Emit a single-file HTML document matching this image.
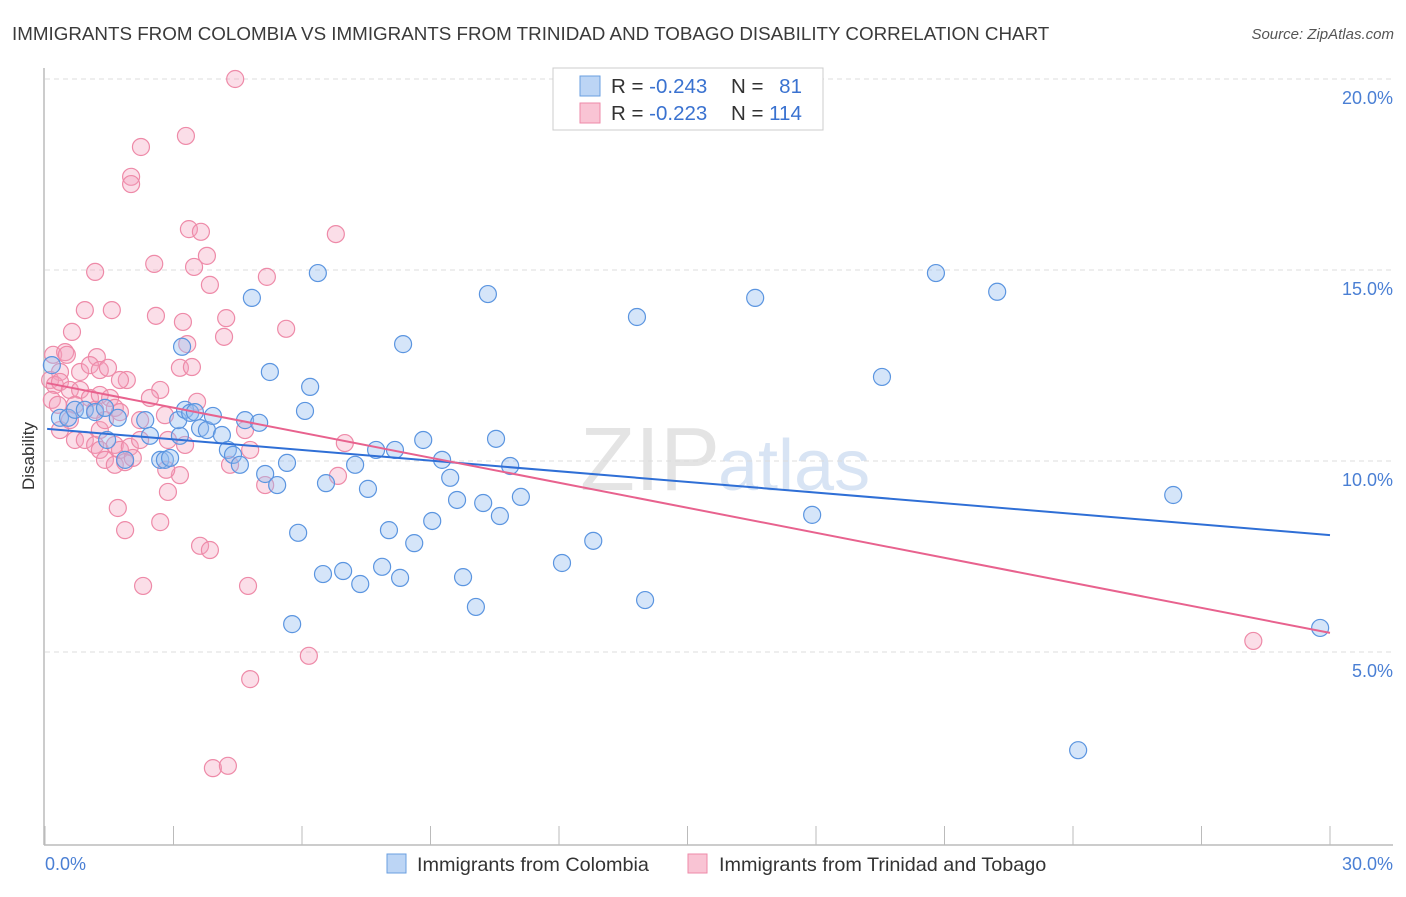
<!DOCTYPE html>
<html><head><meta charset="utf-8"><style>
body{margin:0;background:#fff;font-family:"Liberation Sans",sans-serif;}
svg text{font-family:"Liberation Sans",sans-serif;}
</style></head><body>
<svg id="chart" width="1406" height="892" viewBox="0 0 1406 892" xmlns="http://www.w3.org/2000/svg">
<text x="12" y="40" font-size="18.8" fill="#3a3a3a">IMMIGRANTS FROM COLOMBIA VS IMMIGRANTS FROM TRINIDAD AND TOBAGO DISABILITY CORRELATION CHART</text>
<text x="1394" y="39" font-size="15" fill="#555" font-style="italic" text-anchor="end">Source: ZipAtlas.com</text>
<text x="720" y="490" font-size="90" fill="#e4e4e4" text-anchor="end" font-family="Liberation Serif">ZIP</text>
<text x="718" y="490" font-size="72" fill="#d8e4f4">atlas</text>
<g id="grid"></g>
<g id="axes"></g>
<g id="pink"></g>
<g id="blue"></g>
<g id="trend"></g>
<text transform="translate(34,456) rotate(-90)" font-size="17" fill="#333" text-anchor="middle">Disability</text>
<text x="45" y="870" font-size="18" fill="#4a7fd4">0.0%</text>
<text x="1393" y="870" font-size="18" fill="#4a7fd4" text-anchor="end">30.0%</text>
<g>
<rect x="553" y="68" width="270" height="62" fill="#fff" stroke="#ccc"/>
<rect x="580" y="76" width="20" height="20" fill="#bcd5f5" stroke="#6a9fe0"/>
<rect x="580" y="103" width="20" height="20" fill="#f9c4d4" stroke="#ee8aa8"/>
<text x="611" y="93" font-size="20.5" fill="#333">R = <tspan fill="#3a72d0">-0.243</tspan></text>
<text x="731" y="93" font-size="20.5" fill="#333">N = <tspan fill="#3a72d0" dx="10">81</tspan></text>
<text x="611" y="120" font-size="20.5" fill="#333">R = <tspan fill="#3a72d0">-0.223</tspan></text>
<text x="731" y="120" font-size="20.5" fill="#333">N = <tspan fill="#3a72d0">114</tspan></text>
</g>
<g>
<rect x="387" y="854" width="19" height="19" fill="#bcd5f5" stroke="#6a9fe0"/>
<text x="417" y="871" font-size="19.8" fill="#333">Immigrants from Colombia</text>
<rect x="688" y="854" width="19" height="19" fill="#f9c4d4" stroke="#ee8aa8"/>
<text x="719" y="871" font-size="19.8" fill="#333">Immigrants from Trinidad and Tobago</text>
</g>
</svg>
<script>
const yTicks=[5,10,15,20];
const yTickLabels=["5.0%","10.0%","15.0%","20.0%"];
const xTickVals=[0,3,6,9,12,15,18,21,24,27,30];
const blueX=[.16,.35,.54,.70,.93,1.17,1.40,1.70,1.45,1.87,2.34,2.45,2.69,2.80,2.92,3.15,3.11,3.27,3.39,3.50,3.20,3.62,3.78,3.92,4.13,4.27,4.39,4.55,4.67,4.83,5.00,5.14,5.25,5.42,5.65,5.77,5.91,6.07,6.19,6.37,6.49,6.56,6.96,7.24,7.36,7.54,7.73,7.87,8.03,8.17,8.29,8.36,8.62,8.83,9.04,9.27,9.46,9.62,9.76,10.06,10.23,10.34,10.53,10.62,10.86,11.11,12.07,12.80,13.82,14.01,16.58,17.91,19.54,20.80,22.23,24.12,26.34,29.77];
const blueY=[12.51,11.13,11.13,11.34,11.34,11.28,11.39,11.13,10.55,10.03,11.07,10.66,10.03,10.03,10.08,10.66,11.07,11.34,11.26,11.28,12.99,10.86,10.81,11.18,10.68,10.29,10.16,9.90,11.07,14.27,11.00,9.66,12.33,9.37,9.95,5.73,8.12,11.31,11.94,14.92,7.04,9.42,7.12,9.90,6.78,9.27,10.29,7.23,8.19,10.29,6.94,13.06,7.85,10.55,8.43,10.03,9.56,8.98,6.96,6.18,8.90,14.37,10.58,8.56,9.87,9.06,7.33,7.91,13.77,6.36,14.27,8.59,12.20,14.92,14.43,2.43,9.11,5.63];
const pinkX=[4.44,3.29,2.24,2.01,2.01,6.79,3.36,3.64,3.78,3.48,2.55,5.18,1.17,3.85,.93,1.56,2.59,3.22,4.23,5.63,.63,4.18,3.32,.19,.47,.51,1.21,3.15,3.43,.35,.82,1.05,1.28,1.47,1.91,1.75,2.69,.12,.23,.35,.58,.82,1.05,1.28,1.52,2.45,3.55,.16,.30,.70,1.17,1.63,1.75,2.22,2.80,.70,.93,1.17,1.28,1.63,1.75,1.98,1.40,1.63,1.87,2.05,2.87,3.27,4.67,4.32,4.79,5.14,3.15,2.83,2.87,1.70,1.87,2.69,3.62,3.85,2.29,4.74,7.00,6.84,6.16,4.79,3.92,4.27,28.21,.35,.58,1.28,1.40,2.22];
const pinkY=[20.00,18.51,18.22,17.44,17.25,15.94,16.07,16.00,15.37,15.08,15.16,14.82,14.95,14.61,13.95,13.95,13.80,13.64,13.74,13.46,13.38,13.25,13.06,12.78,12.85,12.78,12.72,12.44,12.46,12.33,12.33,12.51,12.38,12.44,12.12,12.12,11.86,12.12,11.99,12.07,11.86,11.86,11.65,11.73,11.65,11.65,11.55,11.60,11.47,11.47,11.34,11.39,11.28,11.07,11.20,10.55,10.55,10.42,10.29,10.42,10.29,10.37,10.03,9.90,9.97,10.08,10.55,10.42,10.81,9.90,10.29,9.37,9.63,9.77,9.19,8.77,8.19,8.40,7.78,7.67,6.73,6.73,10.47,9.61,4.90,4.29,1.96,2.02,5.29,10.81,11.07,10.81,11.07,10.55];
const blueTrend=[10.84,8.06];
const pinkTrend=[12.04,5.50];

const NS="http://www.w3.org/2000/svg";
const X=v=>45+v/30*1285;
const Y=v=>843-v*38.2;
function mk(tag,attrs,parent){const e=document.createElementNS(NS,tag);for(const k in attrs)e.setAttribute(k,attrs[k]);document.getElementById(parent).appendChild(e);return e;}
yTicks.forEach((t,i)=>{
  const l=mk('line',{x1:45,x2:1393,y1:Y(t),y2:Y(t),stroke:'#dcdcdc','stroke-dasharray':'5,4'},'grid');
  
  
  const tx=mk('text',{x:1393,y:Y(t)+25,'font-size':18,fill:'#4a7fd4','text-anchor':'end'},'grid');
  tx.textContent=yTickLabels[i];
  
  
});
const topLine=mk('line',{x1:45,x2:1393,y1:79,y2:79,stroke:'#dcdcdc','stroke-dasharray':'5,4'},'grid');


const ya=mk('line',{x1:44,x2:44,y1:68,y2:845,stroke:'#bbb','stroke-width':1.5},'axes');


const xa=mk('line',{x1:44,x2:1393,y1:845,y2:845,stroke:'#bbb','stroke-width':1.5},'axes');


xTickVals.forEach(t=>{
  const l=mk('line',{x1:X(t),x2:X(t),y1:826,y2:845,stroke:'#bbb'},'axes');
  
  
});
pinkX.forEach((v,i)=>{
  const c=mk('circle',{cx:X(v),cy:Y(pinkY[i]),r:8.5,fill:'rgba(244,160,188,0.35)',stroke:'#ee8aa8','stroke-width':1.2},'pink');
  
  
});
blueX.forEach((v,i)=>{
  const c=mk('circle',{cx:X(v),cy:Y(blueY[i]),r:8.5,fill:'rgba(150,190,240,0.4)',stroke:'#5b95e0','stroke-width':1.2},'blue');
  
  
});
const bt=mk('line',{x1:X(0.05),x2:X(30),y1:Y(blueTrend[0]),y2:Y(blueTrend[1]),stroke:'#2f6fd6','stroke-width':2},'trend');


const pt=mk('line',{x1:X(0.05),x2:X(30),y1:Y(pinkTrend[0]),y2:Y(pinkTrend[1]),stroke:'#e8628e','stroke-width':2},'trend');


</script>
</body></html>
